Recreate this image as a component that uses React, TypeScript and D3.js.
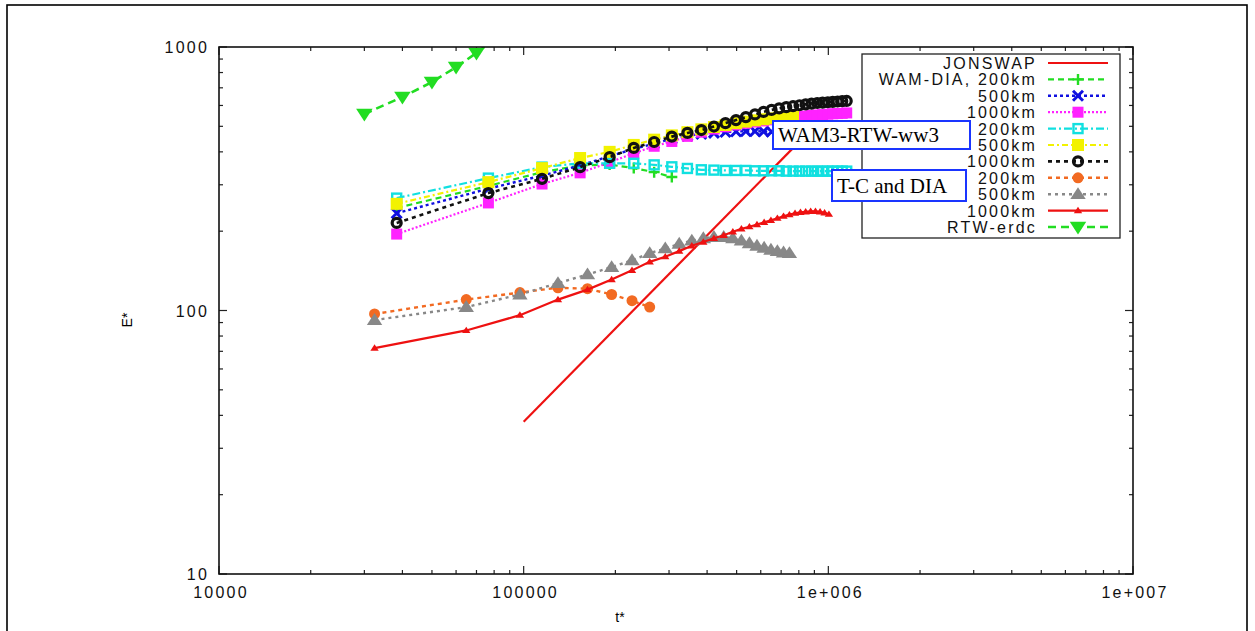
import React, { useEffect, useRef } from 'react';
import * as d3 from 'd3';

// time steps of the WAM-DIA and T-C runs
const wamTimes = [
  38300, 76600, 114900, 153200, 191500, 229800, 268100, 306400, 344700, 383000,
  421300, 459600, 497900, 536200, 574500, 612800, 651100, 689400, 727700, 766000,
  804300, 842600, 880900, 919200, 957500, 995800, 1034100, 1072400, 1110700, 1149000,
];
// time steps of the RTW runs
const rtwTimes = [
  32400, 64800, 97200, 129600, 162000, 194400, 226800, 259200, 291600, 324000,
  356400, 388800, 421200, 453600, 486000, 518400, 550800, 583200, 615600, 648000,
  680400, 712800, 745200, 777600, 810000, 842400, 874800, 907200, 939600, 972000, 1004400,
];
const erdcTimes = [30000, 40000, 50000, 60000, 70000, 80000];
const jonswapTimes = [100000, 1000000];

const jonswapE = [37.8, 566];
const wamDia200 = [245, 297, 335, 355, 358, 347, 335, 321];
const wamDia500 = [234, 290, 325, 355, 385, 410, 430, 448, 460, 468, 472, 476, 478, 479, 479, 478, 477, 476, 475, 474];
const wamDia1000 = [195, 256, 302, 333, 365, 395, 420, 438, 458, 475, 488, 498, 506, 513, 519, 524, 529, 533, 537, 541, 544, 547, 550, 552, 554, 556, 558, 559, 560, 562];
const tc200 = [267, 318, 350, 362, 362, 362, 357, 351, 346, 342, 341, 340, 340, 340, 339, 339, 339, 339, 338, 338, 338, 338, 338, 338, 338, 338, 338, 338, 338, 338];
const tc500 = [254, 307, 347, 379, 400, 425, 445, 462, 475, 487, 497, 506, 514, 521, 527, 532, 536, 540, 543, 545];
const tc1000 = [215, 279, 316, 350, 382, 414, 436, 457, 472, 484, 499, 514, 528, 542, 555, 567, 577, 585, 591, 596, 601, 606, 610, 613, 615, 617, 619, 621, 623, 624];
const rtw200 = [97, 110, 117, 122, 121, 115, 109, 103];
const rtw500 = [92, 103, 115, 127, 137, 146, 155, 165, 172, 179, 184, 188, 190, 190, 188, 184, 180, 176, 173, 170, 168, 166, 165];
const rtw1000 = [72, 84, 96, 110, 120, 131, 142, 153, 160, 168, 176, 182, 188, 193, 199, 204, 208, 212, 216, 220, 224, 228, 231, 234, 236, 237, 238, 238, 237, 235, 232];
const erdcE = [557, 646, 736, 839, 949, 1070];

const legendLabels = [
  'JONSWAP', 'WAM-DIA, 200km', '500km', '1000km', '200km', '500km',
  '1000km', '200km', '500km', '1000km', 'RTW-erdc',
];
const xTicks = [10000, 100000, 1000000, 10000000];
const xTickLabels = ['10000', '100000', '1e+006', '1e+007'];
const yTicks = [10, 100, 1000];
const yTickLabels = ['10', '100', '1000'];

type Marker = 'none' | 'plus' | 'cross' | 'squareFilled' | 'squareOpen' | 'circleOpen' | 'circleFilled' | 'triUp' | 'triDown';

const series: { times: number[]; values: number[]; color: string; dash: string; width: number; marker: Marker; size: number }[] = [
  { times: jonswapTimes, values: jonswapE, color: '#ee1111', dash: '', width: 2.2, marker: 'none', size: 0 },
  { times: wamTimes, values: wamDia200, color: '#22dd22', dash: '6,4', width: 2.2, marker: 'plus', size: 5.5 },
  { times: wamTimes, values: wamDia500, color: '#1010e0', dash: '3,3', width: 2.4, marker: 'cross', size: 5 },
  { times: wamTimes, values: wamDia1000, color: '#ff22ff', dash: '2,2', width: 2.2, marker: 'squareFilled', size: 5.5 },
  { times: wamTimes, values: tc200, color: '#11e0e0', dash: '8,3,2,3', width: 2.2, marker: 'squareOpen', size: 5.5 },
  { times: wamTimes, values: tc500, color: '#f2f200', dash: '6,3,2,3', width: 2.2, marker: 'squareFilled', size: 6 },
  { times: wamTimes, values: tc1000, color: '#111111', dash: '4,4', width: 2.6, marker: 'circleOpen', size: 6 },
  { times: rtwTimes, values: rtw200, color: '#f26a22', dash: '4,4', width: 2.4, marker: 'circleFilled', size: 5.5 },
  { times: rtwTimes, values: rtw500, color: '#888888', dash: '3,4', width: 2.4, marker: 'triUp', size: 7 },
  { times: rtwTimes, values: rtw1000, color: '#ee1111', dash: '', width: 2.2, marker: 'triUp', size: 3.8 },
  { times: erdcTimes, values: erdcE, color: '#22dd22', dash: '8,5', width: 2.6, marker: 'triDown', size: 7.5 },
];

const FONT = "'Liberation Sans', Arial, sans-serif";

function drawMarker(g: any, type: Marker, x: number, y: number, color: string, s: number) {
  if (type === 'plus') {
    g.append('path').attr('d', `M${x - s},${y}L${x + s},${y}M${x},${y - s}L${x},${y + s}`)
      .attr('stroke', color).attr('stroke-width', 2.4).attr('fill', 'none');
  } else if (type === 'cross') {
    g.append('path').attr('d', `M${x - s},${y - s}L${x + s},${y + s}M${x - s},${y + s}L${x + s},${y - s}`)
      .attr('stroke', color).attr('stroke-width', 3).attr('fill', 'none');
  } else if (type === 'squareFilled') {
    g.append('rect').attr('x', x - s).attr('y', y - s).attr('width', 2 * s).attr('height', 2 * s).attr('fill', color);
  } else if (type === 'squareOpen') {
    g.append('rect').attr('x', x - s + 1).attr('y', y - s + 1).attr('width', 2 * s - 2).attr('height', 2 * s - 2)
      .attr('fill', 'none').attr('stroke', color).attr('stroke-width', 2.4);
  } else if (type === 'circleOpen') {
    g.append('circle').attr('cx', x).attr('cy', y).attr('r', s - 1.5)
      .attr('fill', 'none').attr('stroke', color).attr('stroke-width', 3.2);
  } else if (type === 'circleFilled') {
    g.append('circle').attr('cx', x).attr('cy', y).attr('r', s).attr('fill', color);
  } else if (type === 'triUp' || type === 'triDown') {
    const d = type === 'triUp' ? -1 : 1;
    g.append('path')
      .attr('d', `M${x},${y + d * s}L${x + s * 1.1},${y - d * s * 0.7}L${x - s * 1.1},${y - d * s * 0.7}Z`)
      .attr('fill', color);
  }
}

function ChartEnergy() {
  const svgRef = useRef<SVGSVGElement>(null);

  useEffect(() => {
    const width = 1255;
    const height = 631;
    const left = 219, right = 1133, top = 47, bottom = 574;

    const svg = d3.select(svgRef.current).attr('width', width).attr('height', height);
    svg.selectAll('*').remove();

    const x = d3.scaleLog().domain([10000, 10000000]).range([left, right]);
    const y = d3.scaleLog().domain([10, 1000]).range([bottom, top]);

    // outer border of the figure
    svg.append('rect').attr('x', 7).attr('y', 5).attr('width', 1240).attr('height', 650)
      .attr('fill', 'white').attr('stroke', '#000').attr('stroke-width', 1.6);

    svg.append('clipPath').attr('id', 'plot-clip').append('rect')
      .attr('x', left).attr('y', top).attr('width', right - left).attr('height', bottom - top);

    // ticks, mirrored on all four sides
    const ticks = svg.append('g').attr('stroke', '#222').attr('stroke-width', 1.2);
    const xMinor: number[] = [];
    for (let e = 4; e < 7; e++) for (let m = 2; m <= 9; m++) xMinor.push(m * Math.pow(10, e));
    const yMinor: number[] = [];
    for (let e = 1; e < 3; e++) for (let m = 2; m <= 9; m++) yMinor.push(m * Math.pow(10, e));
    xTicks.forEach(t => {
      ticks.append('line').attr('x1', x(t)).attr('x2', x(t)).attr('y1', bottom).attr('y2', bottom - 8);
      ticks.append('line').attr('x1', x(t)).attr('x2', x(t)).attr('y1', top).attr('y2', top + 8);
    });
    xMinor.forEach(t => {
      ticks.append('line').attr('x1', x(t)).attr('x2', x(t)).attr('y1', bottom).attr('y2', bottom - 4);
      ticks.append('line').attr('x1', x(t)).attr('x2', x(t)).attr('y1', top).attr('y2', top + 4);
    });
    yTicks.forEach(v => {
      ticks.append('line').attr('x1', left).attr('x2', left + 8).attr('y1', y(v)).attr('y2', y(v));
      ticks.append('line').attr('x1', right).attr('x2', right - 8).attr('y1', y(v)).attr('y2', y(v));
    });
    yMinor.forEach(v => {
      ticks.append('line').attr('x1', left).attr('x2', left + 4).attr('y1', y(v)).attr('y2', y(v));
      ticks.append('line').attr('x1', right).attr('x2', right - 4).attr('y1', y(v)).attr('y2', y(v));
    });

    // tick labels
    const labels = svg.append('g').attr('font-family', FONT).attr('font-size', 16)
      .attr('fill', '#111').style('letter-spacing', '2.2px');
    xTicks.forEach((t, i) => {
      labels.append('text').attr('x', x(t) + 2).attr('y', 598).attr('text-anchor', 'middle').text(xTickLabels[i]);
    });
    yTicks.forEach((v, i) => {
      labels.append('text').attr('x', left - 10).attr('y', y(v) + 6).attr('text-anchor', 'end').text(yTickLabels[i]);
    });

    // axis titles
    svg.append('text').attr('transform', 'translate(132,320) rotate(-90)')
      .attr('text-anchor', 'middle').attr('font-family', FONT).attr('font-size', 14).text('E*');
    svg.append('text').attr('x', 620).attr('y', 622)
      .attr('text-anchor', 'middle').attr('font-family', FONT).attr('font-size', 14).text('t*');

    // curves
    const line = d3.line<[number, number]>().x(d => x(d[0])).y(d => y(d[1]));
    const plot = svg.append('g').attr('clip-path', 'url(#plot-clip)');
    series.forEach(s => {
      const pts: [number, number][] = s.values.map((v, i) => [s.times[i], v]);
      const g = plot.append('g');
      g.append('path').datum(pts).attr('d', line)
        .attr('fill', 'none').attr('stroke', s.color).attr('stroke-width', s.width)
        .attr('stroke-dasharray', s.dash || null);
      if (s.marker !== 'none') {
        pts.forEach(p => drawMarker(g, s.marker, x(p[0]), y(p[1]), s.color, s.size));
      }
    });

    // frame
    svg.append('rect').attr('x', left).attr('y', top).attr('width', right - left).attr('height', bottom - top)
      .attr('fill', 'none').attr('stroke', '#111').attr('stroke-width', 1.6);

    // legend
    const lg = svg.append('g');
    lg.append('rect').attr('x', 862).attr('y', 54).attr('width', 258).attr('height', 184)
      .attr('fill', 'white').attr('stroke', '#222').attr('stroke-width', 1.3);
    series.forEach((s, i) => {
      const ly = 63 + i * 16.4;
      lg.append('text').attr('x', 1037).attr('y', ly + 6).attr('text-anchor', 'end')
        .attr('font-family', FONT).attr('font-size', 16).attr('fill', '#111')
        .style('letter-spacing', '2.2px').text(legendLabels[i]);
      lg.append('line').attr('x1', 1048).attr('x2', 1108).attr('y1', ly).attr('y2', ly)
        .attr('stroke', s.color).attr('stroke-width', s.width).attr('stroke-dasharray', s.dash || null);
      if (s.marker !== 'none') drawMarker(lg, s.marker, 1078, ly, s.color, s.size);
    });

    // annotation boxes
    const notes = [
      { text: 'WAM3-RTW-ww3', x0: 773, y0: 121, w: 197, h: 28 },
      { text: 'T-C and DIA', x0: 832, y0: 170, w: 134, h: 31 },
    ];
    notes.forEach(n => {
      svg.append('rect').attr('x', n.x0).attr('y', n.y0).attr('width', n.w).attr('height', n.h)
        .attr('fill', 'white').attr('stroke', '#1a35ff').attr('stroke-width', 2);
      svg.append('text').attr('x', n.x0 + 5).attr('y', n.y0 + n.h / 2 + 7)
        .attr('font-family', "'Liberation Serif', 'Times New Roman', serif").attr('font-size', 21)
        .attr('fill', '#000').text(n.text);
    });
  }, []);

  return <svg ref={svgRef} style={{ position: 'absolute', left: 0, top: 0, background: 'white' }}></svg>;
}

export default function App() {
  return <ChartEnergy />;
}
